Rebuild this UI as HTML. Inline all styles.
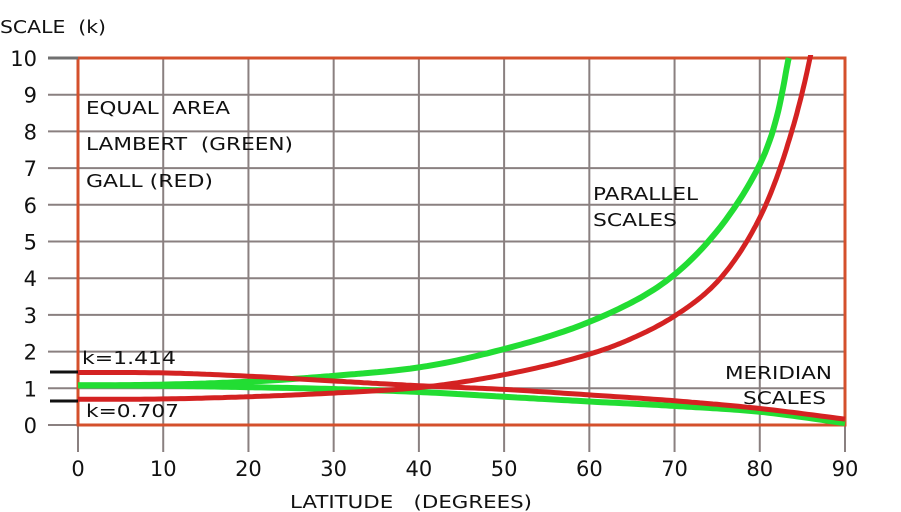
<!DOCTYPE html>
<html><head><meta charset="utf-8"><style>
html,body{margin:0;padding:0;background:#fff;}
svg{display:block;font-family:"DejaVu Sans","Liberation Sans",sans-serif;}
text{white-space:pre;}
</style></head><body>
<svg id="s" width="901" height="512" viewBox="0 0 901 512" xmlns="http://www.w3.org/2000/svg">
<defs><clipPath id="cp"><rect x="60" y="55" width="800" height="400"/></clipPath></defs>
<g id="grid" stroke="#8a8080" stroke-width="2"></g>
<rect x="78" y="58" width="767" height="367" fill="none" stroke="#d4502c" stroke-width="3"/>
<line x1="48" y1="58" x2="78" y2="58" stroke="#707070" stroke-width="3"/>
<line x1="50" y1="372" x2="78" y2="372" stroke="#111" stroke-width="3"/>
<line x1="50" y1="401" x2="78" y2="401" stroke="#111" stroke-width="3"/>
<g font-size="21" fill="#111" text-anchor="end" id="yl"></g>
<g font-size="21" fill="#111" text-anchor="middle" id="xl"></g>
<g font-size="18" fill="#111">
<text x="0" y="33" textLength="106" lengthAdjust="spacingAndGlyphs">SCALE  (k)</text>
<text x="290" y="508" textLength="242" lengthAdjust="spacingAndGlyphs">LATITUDE   (DEGREES)</text>
<text x="86" y="114" textLength="144" lengthAdjust="spacingAndGlyphs">EQUAL  AREA</text>
<text x="86" y="150" textLength="207" lengthAdjust="spacingAndGlyphs">LAMBERT  (GREEN)</text>
<text x="86" y="187" textLength="127" lengthAdjust="spacingAndGlyphs">GALL (RED)</text>
<text x="593" y="200" textLength="105" lengthAdjust="spacingAndGlyphs">PARALLEL</text>
<text x="593" y="226" textLength="84" lengthAdjust="spacingAndGlyphs">SCALES</text>
<text x="725" y="379" textLength="107" lengthAdjust="spacingAndGlyphs">MERIDIAN</text>
<text x="743" y="404" textLength="83" lengthAdjust="spacingAndGlyphs">SCALES</text>
<text x="82" y="364" textLength="94" lengthAdjust="spacingAndGlyphs">k=1.414</text>
<text x="86" y="417" textLength="93" lengthAdjust="spacingAndGlyphs">k=0.707</text>
</g>
<g clip-path="url(#cp)">
<path id="g1" fill="none" stroke="#22dd33" stroke-width="6"/>
<path id="g2" fill="none" stroke="#22dd33" stroke-width="6"/>
<path id="r1" fill="none" stroke="#d42222" stroke-width="5"/>
<path id="r2" fill="none" stroke="#d42222" stroke-width="5"/>
</g>
</svg>
<script>
var NS="http://www.w3.org/2000/svg";
function X(d){return 78+d*767/90;}
function Y(k){return 425-k*36.7;}
var g=document.getElementById('grid');
for(var i=1;i<10;i++){var l=document.createElementNS(NS,'line');l.setAttribute('x1',48);l.setAttribute('x2',845);l.setAttribute('y1',Y(i));l.setAttribute('y2',Y(i));g.appendChild(l);}
var l0=document.createElementNS(NS,'line');l0.setAttribute('x1',48);l0.setAttribute('x2',78);l0.setAttribute('y1',425);l0.setAttribute('y2',425);g.appendChild(l0);
for(var i=0;i<=9;i++){var l=document.createElementNS(NS,'line');l.setAttribute('x1',X(i*10));l.setAttribute('x2',X(i*10));l.setAttribute('y1',58);l.setAttribute('y2',452);g.appendChild(l);}
var yl=document.getElementById('yl');
for(var i=0;i<=10;i++){var t=document.createElementNS(NS,'text');t.setAttribute('x',37);t.setAttribute('y',Y(i)+8);t.textContent=i;yl.appendChild(t);}
var xl=document.getElementById('xl');
for(var i=0;i<=9;i++){var t=document.createElementNS(NS,'text');t.setAttribute('x',X(i*10));t.setAttribute('y',476);t.textContent=i*10;xl.appendChild(t);}
function curve(pts,useLog){
 var q=pts.map(function(a){return [a[0],useLog?Math.log(a[1]):a[1]];});
 var s='';
 for(var i=0;i<q.length-1;i++){
  var p0=q[i>0?i-1:i],p1=q[i],p2=q[i+1],p3=q[i+2<q.length?i+2:i+1];
  for(var j=(i==0?0:1);j<=20;j++){var t=j/20,t2=t*t,t3=t2*t;
   function cm(a,b,c,d){return 0.5*((2*b)+(-a+c)*t+(2*a-5*b+4*c-d)*t2+(-a+3*b-3*c+d)*t3);}
   var x=cm(p0[0],p1[0],p2[0],p3[0]),y=cm(p0[1],p1[1],p2[1],p3[1]);
   if(useLog)y=Math.exp(y);
   s+=(s?'L':'M')+X(x).toFixed(1)+' '+Y(y).toFixed(1);}
 }
 return s;}
document.getElementById('g1').setAttribute('d',curve([[0,1.08],[10,1.1],[20,1.18],[30,1.34],[40,1.57],[50,2.07],[60,2.81],[70,4.1],[80,7.1],[83.4,10]],true));
document.getElementById('g2').setAttribute('d',curve([[0,1.08],[10,1.07],[20,1.03],[30,0.98],[40,0.9],[50,0.77],[60,0.64],[70,0.52],[80,0.36],[90,0.05]],false));
document.getElementById('r1').setAttribute('d',curve([[0,0.7],[10,0.71],[20,0.77],[30,0.87],[40,1.02],[50,1.37],[60,1.93],[65,2.36],[70,2.97],[75,3.9],[80,5.65],[84,8.2],[86.6,10.8]],true));
document.getElementById('r2').setAttribute('d',curve([[0,1.43],[10,1.42],[20,1.33],[30,1.2],[40,1.07],[50,0.97],[60,0.82],[70,0.66],[80,0.45],[90,0.16]],false));
</script>
</body></html>
